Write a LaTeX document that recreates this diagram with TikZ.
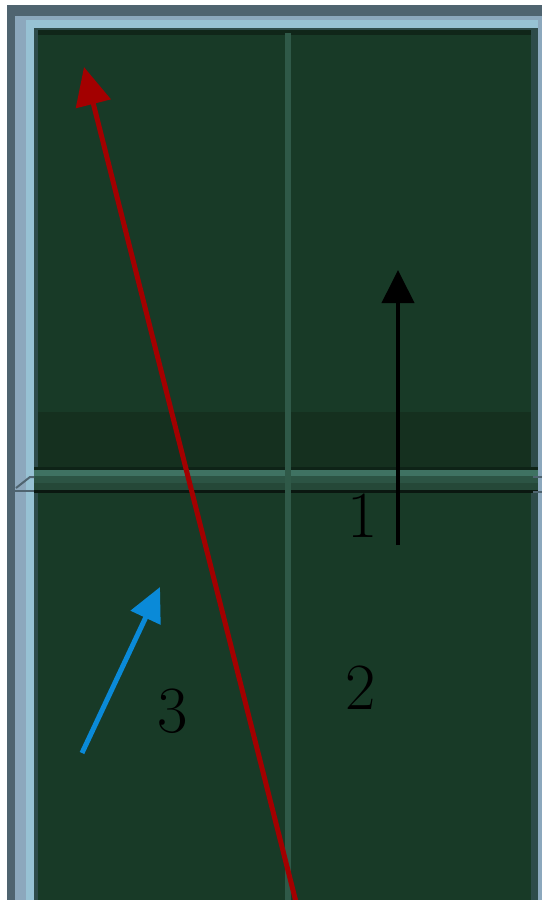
\documentclass[tikz,border=0pt]{standalone}
\usetikzlibrary{arrows.meta}
\definecolor{bggreen}{HTML}{183A27}
\definecolor{bandgreen}{HTML}{15301F}
\definecolor{slate}{HTML}{4F6470}
\definecolor{frameblue}{HTML}{8CA8BD}
\definecolor{frameblue2}{HTML}{97C2D4}
\definecolor{innerdark}{HTML}{2E4B4A}
\definecolor{gridline}{HTML}{2F5948}
\definecolor{teal1}{HTML}{3F7262}
\definecolor{teal2}{HTML}{2C5444}
\definecolor{teal3}{HTML}{254838}
\definecolor{arrred}{HTML}{A30000}
\definecolor{arrblue}{HTML}{0A8AD8}
\begin{document}
\begin{tikzpicture}[x=1pt,y=-1pt,
  lbl/.style={font=\fontsize{66}{70}\selectfont, text=black, inner sep=0pt},
  redarrow/.style={draw=arrred, line width=5pt, -{Triangle[length=38pt,width=35pt]}},
  blackarrow/.style={draw=black, line width=4pt, -{Triangle[length=33pt,width=32pt]}},
  bluearrow/.style={draw=arrblue, line width=5pt, -{Triangle[length=34pt,width=32pt]}}]
\useasboundingbox (0,0) rectangle (542,900);
% background / frame
\fill[white] (0,0) rectangle (542,900);
\fill[slate] (7,5) rectangle (542,900);
\fill[frameblue] (15,16) rectangle (542,900);
\fill[frameblue2] (26,20) rectangle (538,28);
\fill[frameblue2] (26,20) rectangle (34,900);
\fill[innerdark] (34,28) rectangle (538,900);
\fill[bggreen] (38,33) rectangle (531,900);
\fill[black!35!bggreen] (38,30) rectangle (531,35);
% darker band
\fill[bandgreen] (38,412) rectangle (531,468);
% horizontal divider
\fill[teal1] (34,470) rectangle (538,476);
\fill[teal2] (34,476) rectangle (538,483);
\fill[teal3] (34,483) rectangle (538,490);
\fill[black!60!bggreen] (34,490) rectangle (538,493);
\fill[black!40!bggreen] (34,467) rectangle (538,470);
\draw[slate, line width=2pt] (15,491) -- (34,491);
\draw[slate, line width=2pt] (16,488) -- (30,477) -- (34,477);
\draw[slate, line width=2pt] (533,477) -- (542,477);
\draw[slate, line width=2pt] (533,492) -- (542,492);
% vertical divider
\draw[gridline, line width=6pt] (288,33) -- (288,900);
% labels
\node[lbl] (l1) at (363,516) {1};
\node[lbl] (l2) at (361,688) {2};
\node[lbl] (l3) at (173,711) {3};
% arrows
\coordinate (rs) at (296,902);
\coordinate (rt) at (84,67);
\coordinate (bs) at (398,545);
\coordinate (bt) at (398,270);
\coordinate (us) at (82,753);
\coordinate (ut) at (160,587);
\draw[redarrow] (rs) -- (rt);
\draw[blackarrow] (bs) -- (bt);
\draw[bluearrow] (us) -- (ut);
\end{tikzpicture}
\end{document}
